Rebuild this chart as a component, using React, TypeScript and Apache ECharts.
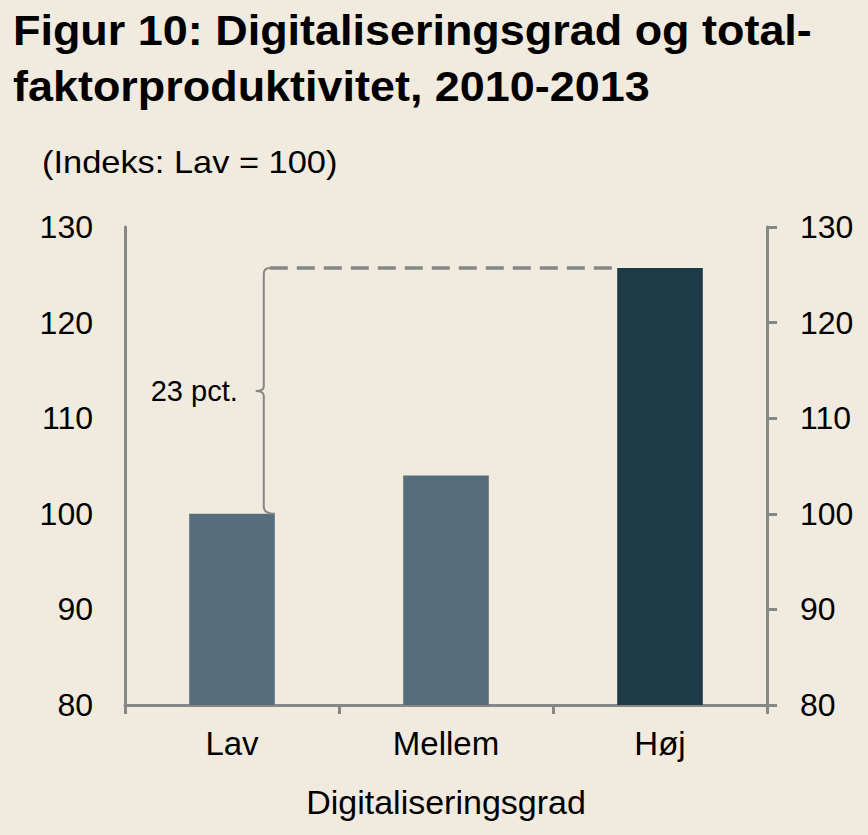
import React, { useEffect, useRef } from 'react';
import * as echarts from 'echarts';

const categories = ['Lav', 'Mellem', 'Høj'];
const values = [100, 104, 125.7];
const barColors = ['#566D7C', '#566D7C', '#1D3B46'];
const yMin = 80;
const yMax = 130;
const yInterval = 10;
const titleLines = ['Figur 10: Digitaliseringsgrad og total-', 'faktorproduktivitet, 2010-2013'];
const subtitle = '(Indeks: Lav = 100)';
const axisName = 'Digitaliseringsgrad';
const bracketLabel = '23 pct.';
const bracketFrom = 0;
const bracketTo = 2;

const FONT = '"Liberation Sans", Arial, sans-serif';
const AXIS_COLOR = '#878787';
const TEXT_COLOR = '#000000';
const BG = '#F0EADF';

export default function App() {
  const ref = useRef<HTMLDivElement>(null);

  useEffect(() => {
    if (!ref.current) return;
    const chart = echarts.init(ref.current, undefined, { renderer: 'svg' });

    const barWidthRatio = 0.4;

    const option: any = {
      animation: false,
      backgroundColor: BG,
      textStyle: { fontFamily: FONT },
      grid: { left: 125, right: 101, top: 227, bottom: 130, outerBoundsMode: 'none' },
      graphic: [
        {
          type: 'text', x: 13, y: 10, scaleX: 1.07,
          style: { text: titleLines[0], font: `bold 42px ${FONT}`, fill: TEXT_COLOR, verticalAlign: 'top' },
        },
        {
          type: 'text', x: 13, y: 66, scaleX: 1.07,
          style: { text: titleLines[1], font: `bold 42px ${FONT}`, fill: TEXT_COLOR, verticalAlign: 'top' },
        },
        {
          type: 'text', x: 42, y: 162, scaleX: 1.11,
          style: { text: subtitle, font: `31px ${FONT}`, fill: TEXT_COLOR, verticalAlign: 'middle' },
        },
      ],
      xAxis: {
        type: 'category',
        data: categories,
        boundaryGap: true,
        axisLine: { show: true, lineStyle: { color: AXIS_COLOR, width: 3 } },
        axisTick: { show: true, alignWithLabel: false, interval: 0, length: 9, lineStyle: { color: AXIS_COLOR, width: 3 } },
        axisLabel: { fontSize: 33, color: TEXT_COLOR, margin: 22, fontFamily: FONT },
        name: axisName,
        nameLocation: 'middle',
        nameGap: 80,
        nameTextStyle: { fontSize: 34, color: TEXT_COLOR, fontFamily: FONT },
        splitLine: { show: false },
      },
      yAxis: [
        {
          type: 'value', position: 'left', min: yMin, max: yMax, interval: yInterval,
          axisLine: { show: true, lineStyle: { color: AXIS_COLOR, width: 3 } },
          axisTick: { show: false },
          splitLine: { show: false },
          axisLabel: { fontSize: 32, color: TEXT_COLOR, margin: 32, fontFamily: FONT },
        },
        {
          type: 'value', position: 'right', min: yMin, max: yMax, interval: yInterval,
          axisLine: { show: true, lineStyle: { color: AXIS_COLOR, width: 3 } },
          axisTick: { show: true, length: 10, lineStyle: { color: AXIS_COLOR, width: 3 } },
          splitLine: { show: false },
          axisLabel: { fontSize: 32, color: TEXT_COLOR, margin: 33, fontFamily: FONT },
        },
      ],
      series: [
        {
          type: 'bar',
          yAxisIndex: 0,
          barWidth: `${barWidthRatio * 100}%`,
          data: values.map((v, i) => ({ value: v, itemStyle: { color: barColors[i] } })),
          z: 2,
        },
        {
          type: 'custom',
          yAxisIndex: 0,
          silent: true,
          z: 3,
          encode: { x: 0, y: 1 },
          data: [[bracketFrom, values[bracketFrom], bracketTo, values[bracketTo]]],
          renderItem: (params: any, api: any) => {
            const low = api.coord([api.value(0), api.value(1)]);
            const high = api.coord([api.value(2), api.value(3)]);
            const bw = api.size([1, 0])[0] * barWidthRatio;
            const xr = low[0] + bw / 2;
            const xv = xr - 11;
            const yb = low[1];
            const yt = high[1];
            const ym = (yt + yb) / 2;
            const xEnd = high[0] - bw / 2;
            const d =
              `M ${xr} ${yb} Q ${xv} ${yb} ${xv} ${yb - 7} ` +
              `L ${xv} ${ym + 5} Q ${xv} ${ym} ${xv - 8} ${ym} ` +
              `Q ${xv} ${ym} ${xv} ${ym - 5} ` +
              `L ${xv} ${yt + 6} Q ${xv} ${yt} ${xv + 6} ${yt}`;
            return {
              type: 'group',
              children: [
                {
                  type: 'path',
                  shape: { pathData: d },
                  style: { stroke: AXIS_COLOR, fill: 'none', lineWidth: 2 },
                },
                {
                  type: 'line',
                  shape: { x1: xv + 6, y1: yt, x2: xEnd, y2: yt },
                  style: { stroke: AXIS_COLOR, lineWidth: 3.5, lineDash: [18, 9] },
                },
                {
                  type: 'text',
                  style: {
                    text: bracketLabel,
                    x: xv - 26,
                    y: ym,
                    align: 'right',
                    verticalAlign: 'middle',
                    font: `29px ${FONT}`,
                    fill: TEXT_COLOR,
                  },
                },
              ],
            };
          },
        },
      ],
    };

    chart.setOption(option);
    return () => chart.dispose();
  }, []);

  return (
    <div
      ref={ref}
      style={{ position: 'absolute', left: 0, top: 0, width: 868, height: 835 }}
    />
  );
}
